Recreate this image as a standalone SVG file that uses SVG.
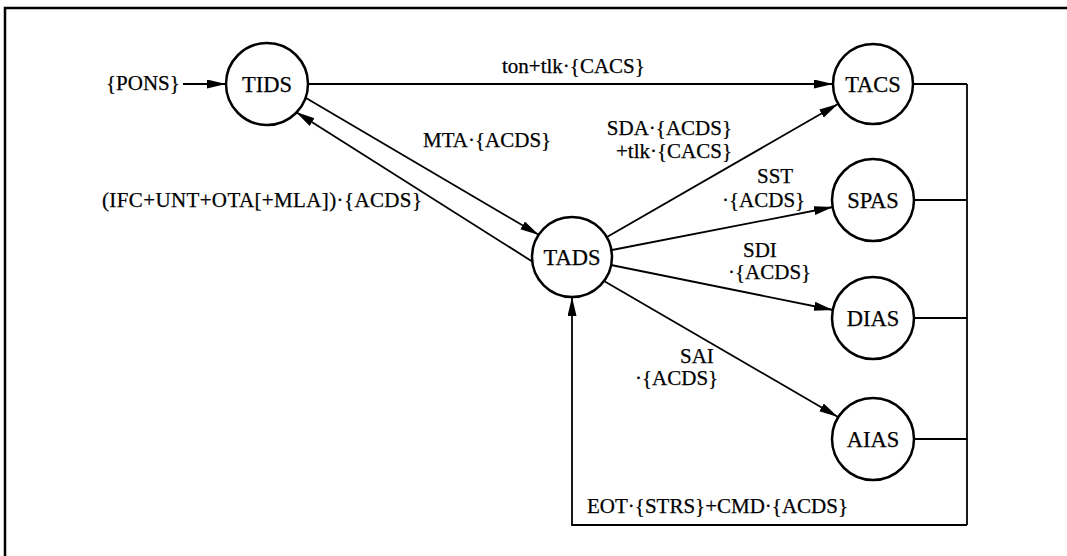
<svg xmlns="http://www.w3.org/2000/svg" width="1067" height="556" viewBox="0 0 1067 556">
<defs>
<marker id="ah" markerUnits="userSpaceOnUse" markerWidth="20" markerHeight="10" refX="19" refY="4.5" orient="auto">
<path d="M0,0 L19,4.5 L0,9 z" fill="#000"/>
</marker>
</defs>
<style>
.n circle{fill:#fff;stroke:#000;stroke-width:2.5}
.n text,.lbl text{font-family:"Liberation Serif","Times New Roman",serif;font-size:21px;fill:#000;stroke:#000;stroke-width:0.25}
.n text{text-anchor:middle;font-size:22.5px}
.c line,.c path{stroke:#000;stroke-width:1.8;fill:none}
.a{marker-end:url(#ah)}
</style>
<rect width="1067" height="556" fill="#fff"/>
<path d="M5,556 V8 H1067" fill="none" stroke="#000" stroke-width="2.5"/>
<g id="connectors" class="c">
<line class="a" x1="183" y1="84" x2="226" y2="84"/>
<line class="a" x1="308" y1="84" x2="833" y2="84"/>
<line class="a" x1="306" y1="98" x2="539" y2="235"/>
<line class="a" x1="533" y1="262" x2="296" y2="112"/>
<line class="a" x1="607" y1="237" x2="838" y2="104"/>
<line class="a" x1="612" y1="250" x2="833" y2="207"/>
<line class="a" x1="611" y1="265" x2="833" y2="310"/>
<line class="a" x1="604" y1="281" x2="838" y2="417"/>
<line x1="913" y1="84" x2="967" y2="84"/>
<line x1="914" y1="200" x2="967" y2="200"/>
<line x1="914" y1="318" x2="967" y2="318"/>
<line x1="914" y1="439" x2="967" y2="439"/>
<line x1="967" y1="84" x2="967" y2="525"/>
<path class="a" d="M967,525 H572 V297"/>
</g>
<g id="labels" class="lbl">
<text x="106" y="90">{PONS}</text>
<text x="502" y="73">ton+tlk·{CACS}</text>
<text x="423" y="147">MTA·{ACDS}</text>
<text x="102" y="207" textLength="320">(IFC+UNT+OTA[+MLA])·{ACDS}</text>
<text x="732" y="135" text-anchor="end">SDA·{ACDS}</text>
<text x="732" y="158" text-anchor="end">+tlk·{CACS}</text>
<text x="757" y="183">SST</text>
<text x="722" y="207">·{ACDS}</text>
<text x="743" y="257">SDI</text>
<text x="728" y="279">·{ACDS}</text>
<text x="680" y="363">SAI</text>
<text x="635" y="385">·{ACDS}</text>
<text x="587" y="513">EOT·{STRS}+CMD·{ACDS}</text>
</g>
<g id="TIDS" class="n"><circle cx="267" cy="84" r="41"/><text x="267" y="92">TIDS</text></g>
<g id="TACS" class="n"><circle cx="873" cy="84" r="40"/><text x="873" y="92">TACS</text></g>
<g id="SPAS" class="n"><circle cx="873" cy="200" r="41"/><text x="873" y="208">SPAS</text></g>
<g id="DIAS" class="n"><circle cx="873" cy="318" r="41"/><text x="873" y="326">DIAS</text></g>
<g id="AIAS" class="n"><circle cx="873" cy="439" r="41"/><text x="873" y="447">AIAS</text></g>
<g id="TADS" class="n"><circle cx="572" cy="257" r="40"/><text x="572" y="265">TADS</text></g>
</svg>
